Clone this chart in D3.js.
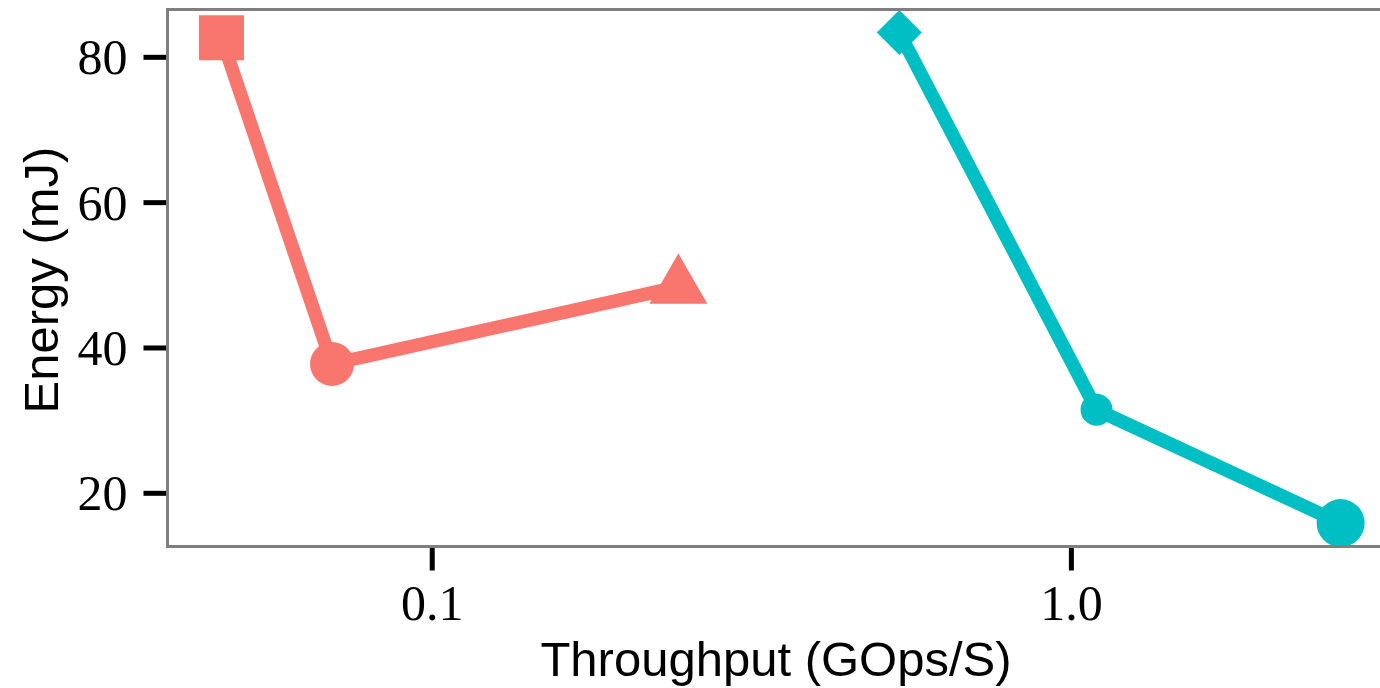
<!DOCTYPE html>
<html>
<head>
<meta charset="utf-8">
<script src="https://cdn.jsdelivr.net/npm/d3@7"></script>
<style>
  body { margin: 0; background: #fff; }
  svg { display: block; }
  .tickLabel { font-family: "Liberation Serif", "Times New Roman", serif; font-size: 50px; fill: #000; }
  .axisTitle { font-family: "Liberation Sans", Arial, sans-serif; font-size: 49px; fill: #000; }
</style>
</head>
<body>
<script>
// series data (throughput in GOps/S, energy in mJ)
var seriesNames = ["A", "B"];
var throughputA = [0.0468, 0.0697, 0.2427];
var energyA = [82.7, 37.8, 48.4];
var throughputB = [0.538, 1.095, 2.638];
var energyB = [83.4, 31.5, 15.9];
var xTicks = [0.1, 1.0];
var xTickLabels = ["0.1", "1.0"];
var yTicks = [20, 40, 60, 80];

//marker styling per point
var colors = {A: "#F8766D", B: "#00BFC4"};
var markers = {
    A: [{type: d3.symbolSquare, size: 2025, rot: 0},
        {type: d3.symbolCircle, size: 1520, rot: 0},
        {type: d3.symbolTriangle, size: 1456, rot: 0}],
    B: [{type: d3.symbolSquare, size: 1012, rot: 45},
        {type: d3.symbolCircle, size: 804, rot: 0},
        {type: d3.symbolCircle, size: 1810, rot: 0}]
};

var width = 1380, height = 688;
var panel = {left: 167.5, right: 1382, top: 9.5, bottom: 546.5};

var svg = d3.select("body").append("svg")
    .attr("width", width)
    .attr("height", height);

var x = d3.scaleLog()
    .domain([Math.pow(10, -1.4142), Math.pow(10, 0.4860)])
    .range([panel.left, panel.right]);

var y = d3.scaleLinear()
    .domain([12.68, 86.58])
    .range([panel.bottom, panel.top]);

var series = [
    {name: "A", pts: throughputA.map(function(t, i){ return {x: t, y: energyA[i]}; })},
    {name: "B", pts: throughputB.map(function(t, i){ return {x: t, y: energyB[i]}; })}
];

var line = d3.line()
    .x(function(d){ return x(d.x); })
    .y(function(d){ return y(d.y); });

//lines
svg.selectAll(".seriesLine")
    .data(series)
    .enter()
    .append("path")
    .attr("class", "seriesLine")
    .attr("d", function(d){ return line(d.pts); })
    .attr("fill", "none")
    .attr("stroke", function(d){ return colors[d.name]; })
    .attr("stroke-width", 13.5);

//points
series.forEach(function(s){
    svg.selectAll(".pt" + s.name)
        .data(s.pts)
        .enter()
        .append("path")
        .attr("class", "pt" + s.name)
        .attr("d", function(d, i){
            var m = markers[s.name][i];
            return d3.symbol().type(m.type).size(m.size)();
        })
        .attr("transform", function(d, i){
            var m = markers[s.name][i];
            return "translate(" + x(d.x) + "," + y(d.y) + ") rotate(" + m.rot + ")";
        })
        .attr("fill", colors[s.name]);
});

//panel border
svg.append("rect")
    .attr("x", panel.left)
    .attr("y", panel.top)
    .attr("width", panel.right - panel.left)
    .attr("height", panel.bottom - panel.top)
    .attr("fill", "none")
    .attr("stroke", "#7f7f7f")
    .attr("stroke-width", 3);

//y axis
var yAxis = svg.append("g").attr("class", "yAxis");
yAxis.selectAll("line")
    .data(yTicks)
    .enter()
    .append("line")
    .attr("x1", panel.left - 24)
    .attr("x2", panel.left - 1.5)
    .attr("y1", function(d){ return y(d); })
    .attr("y2", function(d){ return y(d); })
    .attr("stroke", "#000")
    .attr("stroke-width", 5);
yAxis.selectAll("text")
    .data(yTicks)
    .enter()
    .append("text")
    .attr("class", "tickLabel")
    .attr("x", panel.left - 40)
    .attr("y", function(d){ return y(d); })
    .attr("dy", "0.34em")
    .attr("text-anchor", "end")
    .text(function(d){ return d; });

//x axis
var xAxis = svg.append("g").attr("class", "xAxis");
xAxis.selectAll("line")
    .data(xTicks)
    .enter()
    .append("line")
    .attr("x1", function(d){ return x(d); })
    .attr("x2", function(d){ return x(d); })
    .attr("y1", panel.bottom + 1.5)
    .attr("y2", panel.bottom + 24)
    .attr("stroke", "#000")
    .attr("stroke-width", 5);
xAxis.selectAll("text")
    .data(xTicks)
    .enter()
    .append("text")
    .attr("class", "tickLabel")
    .attr("x", function(d){ return x(d); })
    .attr("y", 620)
    .attr("text-anchor", "middle")
    .text(function(d, i){ return xTickLabels[i]; });

//axis titles
svg.append("text")
    .attr("class", "axisTitle")
    .attr("x", 776)
    .attr("y", 676)
    .attr("text-anchor", "middle")
    .text("Throughput (GOps/S)");

svg.append("text")
    .attr("class", "axisTitle")
    .attr("transform", "translate(58,280) rotate(-90)")
    .attr("text-anchor", "middle")
    .text("Energy (mJ)");
</script>
</body>
</html>
